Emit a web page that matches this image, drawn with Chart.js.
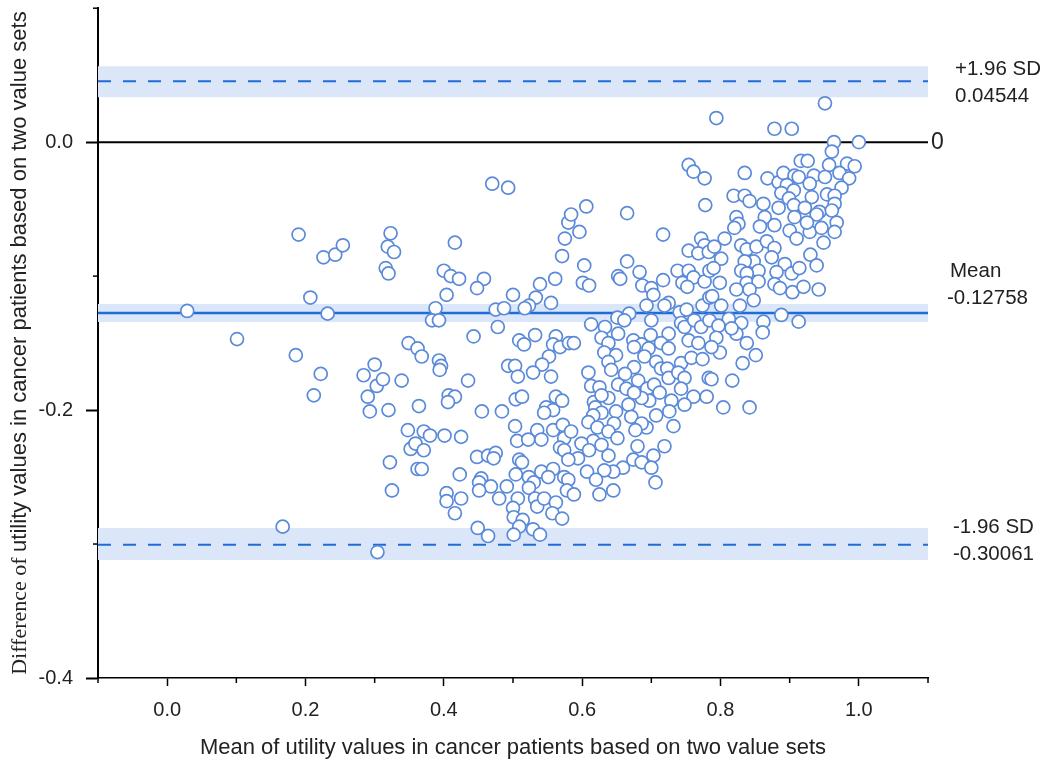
<!DOCTYPE html>
<html>
<head>
<meta charset="utf-8">
<script src="https://cdn.jsdelivr.net/npm/chart.js@4.4.1/dist/chart.umd.min.js"></script>
<style>
html,body{margin:0;padding:0;background:#fff}
#wrap{width:1054px;height:765px}
</style>
</head>
<body>
<div id="wrap"><canvas id="ba" width="1054" height="765"></canvas></div>
<script>
// Bland-Altman data: [mean of the two utilities, difference]
const samples=[
// left, sparse
[0.029,-0.126],[0.101,-0.147],[0.190,-0.069],[0.226,-0.086],[0.243,-0.084],[0.254,-0.077],[0.207,-0.116],[0.232,-0.128],[0.186,-0.159],[0.222,-0.173],
[0.212,-0.189],[0.300,-0.166],[0.284,-0.174],[0.303,-0.182],[0.312,-0.177],[0.290,-0.190],[0.293,-0.201],[0.320,-0.200],[0.339,-0.178],[0.349,-0.150],
[0.348,-0.215],[0.352,-0.229],[0.322,-0.239],[0.325,-0.260],[0.167,-0.287],[0.304,-0.306],[0.323,-0.068],[0.319,-0.078],[0.328,-0.082],[0.316,-0.094],
[0.320,-0.098],
// 0.35 - 0.58, upper half
[0.470,-0.031],[0.493,-0.034],[0.580,-0.060],[0.575,-0.072],[0.571,-0.085],[0.416,-0.075],[0.400,-0.096],[0.410,-0.100],[0.422,-0.102],[0.458,-0.102],
[0.448,-0.109],[0.404,-0.114],[0.388,-0.124],[0.383,-0.133],[0.393,-0.133],[0.475,-0.125],[0.487,-0.124],[0.478,-0.138],[0.443,-0.145],[0.500,-0.114],
[0.539,-0.106],[0.533,-0.116],[0.561,-0.102],[0.555,-0.120],[0.523,-0.122],[0.517,-0.124],[0.362,-0.154],[0.368,-0.160],[0.393,-0.163],[0.396,-0.167],
[0.435,-0.178],[0.493,-0.167],[0.503,-0.167],[0.507,-0.175],[0.509,-0.148],[0.516,-0.151],[0.532,-0.144],[0.562,-0.145],[0.558,-0.151],[0.568,-0.153],
[0.552,-0.160],[0.542,-0.166],[0.529,-0.172],[0.555,-0.175],[0.581,-0.150],
// 0.35 - 0.58, lower half
[0.394,-0.170],[0.407,-0.189],[0.416,-0.190],[0.406,-0.194],[0.364,-0.197],[0.455,-0.201],[0.484,-0.201],[0.504,-0.192],[0.513,-0.190],[0.548,-0.198],
[0.558,-0.200],[0.562,-0.190],[0.571,-0.193],[0.545,-0.202],[0.503,-0.212],[0.506,-0.223],[0.522,-0.222],[0.535,-0.215],[0.541,-0.222],[0.558,-0.215],
[0.572,-0.211],[0.574,-0.221],[0.568,-0.228],[0.574,-0.230],[0.371,-0.216],[0.380,-0.219],[0.401,-0.219],[0.425,-0.220],[0.359,-0.225],[0.371,-0.230],
[0.448,-0.235],[0.464,-0.234],[0.475,-0.232],[0.472,-0.236],[0.509,-0.237],[0.513,-0.239],[0.362,-0.244],[0.368,-0.244],[0.423,-0.248],[0.454,-0.251],
[0.451,-0.254],[0.468,-0.257],[0.451,-0.260],[0.491,-0.257],[0.504,-0.248],[0.523,-0.250],[0.530,-0.254],[0.541,-0.246],[0.558,-0.244],[0.551,-0.250],
[0.574,-0.250],[0.580,-0.252],[0.523,-0.258],[0.404,-0.262],[0.404,-0.268],[0.425,-0.266],[0.416,-0.277],[0.480,-0.266],[0.507,-0.266],[0.500,-0.273],
[0.532,-0.266],[0.535,-0.272],[0.545,-0.266],[0.562,-0.269],[0.557,-0.277],[0.571,-0.281],[0.501,-0.280],[0.514,-0.282],[0.509,-0.287],[0.529,-0.289],
[0.449,-0.288],[0.464,-0.294],[0.501,-0.293],[0.539,-0.293],[0.578,-0.260],
// 0.58 - 0.79, upper half
[0.754,-0.017],[0.761,-0.022],[0.777,-0.027],[0.778,-0.047],[0.606,-0.048],[0.584,-0.054],[0.596,-0.067],[0.665,-0.053],[0.717,-0.069],[0.603,-0.092],
[0.601,-0.105],[0.610,-0.107],[0.665,-0.089],[0.652,-0.100],[0.655,-0.102],[0.683,-0.097],[0.687,-0.107],[0.700,-0.109],[0.703,-0.114],[0.717,-0.103],
[0.738,-0.096],[0.754,-0.096],[0.745,-0.105],[0.761,-0.101],[0.752,-0.108],[0.754,-0.081],[0.772,-0.072],[0.777,-0.077],[0.768,-0.083],[0.783,-0.082],
[0.777,-0.104],[0.784,-0.096],[0.693,-0.122],[0.725,-0.120],[0.719,-0.122],[0.741,-0.127],[0.751,-0.125],[0.774,-0.122],[0.784,-0.116],[0.668,-0.128],
[0.651,-0.131],[0.661,-0.133],[0.700,-0.133],[0.613,-0.136],[0.633,-0.138],[0.652,-0.143],[0.628,-0.146],[0.638,-0.150],[0.588,-0.150],[0.674,-0.148],
[0.699,-0.144],[0.725,-0.143],[0.743,-0.135],[0.748,-0.138],[0.762,-0.133],[0.772,-0.138],[0.784,-0.133],[0.754,-0.148],[0.768,-0.150],[0.714,-0.150],
[0.686,-0.151],
// 0.58 - 0.79, lower half
[0.632,-0.157],[0.649,-0.159],[0.638,-0.164],[0.642,-0.170],[0.609,-0.172],[0.675,-0.153],[0.696,-0.154],[0.725,-0.154],[0.690,-0.160],[0.707,-0.164],
[0.714,-0.169],[0.723,-0.169],[0.743,-0.165],[0.758,-0.161],[0.774,-0.162],[0.783,-0.176],[0.675,-0.168],[0.662,-0.173],[0.613,-0.182],[0.625,-0.183],
[0.652,-0.181],[0.664,-0.184],[0.681,-0.178],[0.694,-0.184],[0.704,-0.181],[0.725,-0.176],[0.739,-0.172],[0.748,-0.176],[0.743,-0.184],[0.761,-0.190],
[0.780,-0.190],[0.712,-0.187],[0.729,-0.193],[0.697,-0.193],[0.686,-0.191],[0.675,-0.187],[0.638,-0.191],[0.617,-0.194],[0.619,-0.198],[0.628,-0.189],
[0.667,-0.196],[0.671,-0.205],[0.649,-0.201],[0.628,-0.202],[0.616,-0.204],[0.609,-0.209],[0.646,-0.210],[0.622,-0.213],[0.707,-0.204],[0.726,-0.201],
[0.748,-0.196],[0.732,-0.212],[0.693,-0.213],[0.686,-0.210],[0.677,-0.215],[0.638,-0.216],[0.584,-0.216],[0.651,-0.221],[0.616,-0.223],[0.628,-0.226],
[0.599,-0.225],[0.610,-0.230],[0.638,-0.234],[0.594,-0.236],[0.580,-0.237],[0.680,-0.227],[0.719,-0.227],[0.703,-0.234],[0.674,-0.237],[0.686,-0.239],
[0.700,-0.243],[0.659,-0.243],[0.645,-0.246],[0.632,-0.245],[0.607,-0.246],[0.620,-0.252],[0.588,-0.263],[0.625,-0.263],[0.645,-0.260],[0.706,-0.254],
// 0.79 - 1.0, near zero
[0.794,0.018],[0.878,0.010],[0.903,0.010],[0.951,0.029],[0.964,0.000],[1.000,0.000],[0.961,-0.007],[0.835,-0.023],[0.916,-0.014],[0.926,-0.014],
[0.957,-0.017],[0.983,-0.016],[0.994,-0.018],[0.868,-0.027],[0.884,-0.030],[0.891,-0.023],[0.907,-0.025],[0.913,-0.026],[0.935,-0.025],[0.951,-0.026],
[0.972,-0.023],[0.986,-0.027],[0.929,-0.031],[0.975,-0.034],[0.896,-0.032],[0.819,-0.040],[0.835,-0.040],[0.842,-0.044],[0.888,-0.038],[0.906,-0.036],
[0.932,-0.041],[0.954,-0.039],[0.965,-0.040],[0.862,-0.046],[0.899,-0.042],[0.884,-0.049],[0.906,-0.047],[0.922,-0.049],[0.943,-0.052],[0.965,-0.046],
[0.939,-0.054],[0.961,-0.051],[0.823,-0.056],[0.826,-0.061],[0.864,-0.056],[0.878,-0.062],[0.907,-0.056],[0.857,-0.063],[0.900,-0.066],[0.929,-0.067],
[0.946,-0.064],[0.968,-0.060],[0.965,-0.067],[0.820,-0.064],[0.925,-0.060],
// 0.79 - 1.0, lower
[0.910,-0.072],[0.949,-0.075],[0.806,-0.072],[0.791,-0.078],[0.830,-0.077],[0.838,-0.080],[0.852,-0.078],[0.867,-0.074],[0.878,-0.079],[0.801,-0.087],
[0.874,-0.086],[0.848,-0.089],[0.835,-0.089],[0.893,-0.091],[0.930,-0.084],[0.939,-0.092],[0.790,-0.094],[0.830,-0.096],[0.855,-0.096],[0.881,-0.097],
[0.903,-0.098],[0.914,-0.094],[0.799,-0.105],[0.838,-0.098],[0.838,-0.105],[0.855,-0.104],[0.878,-0.106],[0.886,-0.109],[0.904,-0.112],[0.920,-0.108],
[0.942,-0.110],[0.823,-0.110],[0.842,-0.110],[0.788,-0.115],[0.848,-0.118],[0.801,-0.122],[0.828,-0.122],[0.888,-0.129],[0.913,-0.134],[0.862,-0.134],
[0.861,-0.142],[0.830,-0.135],[0.812,-0.132],[0.797,-0.137],[0.823,-0.143],[0.794,-0.146],[0.838,-0.150],[0.816,-0.139],
[0.851,-0.159],[0.832,-0.165],[0.799,-0.157],[0.787,-0.153],[0.787,-0.177],[0.817,-0.178],[0.804,-0.198],[0.842,-0.198]
];

// agreement lines and their confidence bands
const upperLoA=0.04544, meanDiff=-0.12758, lowerLoA=-0.30061;
const upperBand=[0.0336,0.0567];
const meanBand=[-0.1343,-0.1209];
const lowerBand=[-0.3119,-0.2881];

const xRange=[-0.1,1.1];
const yRange=[-0.4,0.1];
const xLabelled=[0,2,4,6,8,10];   // tenths that carry a label
const yLabelled=[0,-2,-4];

const sideText=[
  {v:upperLoA, lines:["+1.96 SD","0.04544"], dy:[-12,15], x:955},
  {v:meanDiff, lines:["Mean","-0.12758"], dy:[-42,-15], x:[950,947]},
  {v:lowerLoA, lines:["-1.96 SD","-0.30061"], dy:[-18,9], x:953}
];

const BLUE="#1e6cd6", BAND="#dbe7f8", DOT="#5a8ad9";
const SANS="'Liberation Sans', Arial, sans-serif";
const SERIF="'Liberation Serif', 'Times New Roman', serif";

function hline(v){return [{x:xRange[0],y:v},{x:xRange[1],y:v}];}
function lineSet(v,color,width,dash){
  return {data:hline(v),showLine:true,borderColor:color,borderWidth:width,borderDash:dash||[],pointRadius:0,fill:false};
}
function bandSet(v,fill){
  return {data:hline(v),showLine:true,borderWidth:0,borderColor:"transparent",backgroundColor:BAND,pointRadius:0,fill:fill};
}
const tenth=v=>Math.round(v*10);

// minor ticks + text around the plot
const decor={
  id:"decor",
  afterDraw(chart){
    const c=chart.ctx, a=chart.chartArea, xs=chart.scales.x, ys=chart.scales.y;
    c.save();
    c.strokeStyle="#000";c.lineWidth=1.5;
    for(let k=-1;k<=11;k++){
      if(xLabelled.includes(k))continue;
      const px=xs.getPixelForValue(k/10);
      c.beginPath();c.moveTo(px,a.bottom);c.lineTo(px,a.bottom+5);c.stroke();
    }
    for(let k=-4;k<=1;k++){
      if(yLabelled.includes(k))continue;
      const py=ys.getPixelForValue(k/10);
      c.beginPath();c.moveTo(a.left,py);c.lineTo(a.left-5,py);c.stroke();
    }
    c.fillStyle="#222";
    // x title
    c.font="22px "+SANS;c.textAlign="center";c.textBaseline="middle";
    c.fillText("Mean of utility values in cancer patients based on two value sets",(a.left+a.right)/2,748);
    // y title, first words in serif as in the source
    const p1="Difference of ", p2="utility values in cancer patients based on two value sets";
    c.font="22px "+SERIF;const w1=c.measureText(p1).width;
    c.font="22px "+SANS;const w2=c.measureText(p2).width;
    c.translate(20,(a.top+a.bottom)/2);c.rotate(-Math.PI/2);
    c.textAlign="left";
    c.font="22px "+SERIF;c.fillText(p1,-(w1+w2)/2,0);
    c.font="22px "+SANS;c.fillText(p2,-(w1+w2)/2+w1,0);
    c.setTransform(1,0,0,1,0,0);
    // side labels
    c.textAlign="left";c.font="20.5px "+SANS;
    sideText.forEach(s=>{
      const py=ys.getPixelForValue(s.v);
      s.lines.forEach((t,i)=>{
        const x=Array.isArray(s.x)?s.x[i]:s.x;
        c.fillText(t,x,py+s.dy[i]);
      });
    });
    c.font="23px "+SANS;
    c.fillText("0",a.right+3,ys.getPixelForValue(0));
    c.restore();
  }
};

new Chart(document.getElementById("ba"),{
  type:"scatter",
  data:{datasets:[
    {data:samples.map(p=>({x:p[0],y:p[1]})),pointRadius:6.5,pointHoverRadius:6.5,pointBorderWidth:1.7,
     pointBorderColor:DOT,pointBackgroundColor:"#fff",showLine:false},
    lineSet(0,"#000",2),
    lineSet(meanDiff,BLUE,2.5),
    lineSet(upperLoA,BLUE,2,[13,12]),
    lineSet(lowerLoA,BLUE,2,[13,12]),
    bandSet(upperBand[1],"+1"),bandSet(upperBand[0],false),
    bandSet(meanBand[1],"+1"),bandSet(meanBand[0],false),
    bandSet(lowerBand[1],"+1"),bandSet(lowerBand[0],false)
  ]},
  options:{
    responsive:false,animation:false,
    layout:{padding:{top:8,right:126,left:0,bottom:0}},
    plugins:{legend:{display:false},tooltip:{enabled:false}},
    scales:{
      x:{type:"linear",min:xRange[0],max:xRange[1],
        ticks:{stepSize:0.1,autoSkip:false,maxRotation:0,padding:12,color:"#222",font:{family:SANS,size:20},
          callback:v=>xLabelled.includes(tenth(v))?(tenth(v)/10).toFixed(1):""},
        grid:{drawOnChartArea:false,tickLength:8,tickWidth:1.5,
          tickColor:ctx=>ctx.tick&&xLabelled.includes(tenth(ctx.tick.value))?"#000":"transparent"},
        border:{color:"#000",width:1.5},
        afterFit(s){s.height=87;s.paddingLeft=0;s.paddingRight=0;}
      },
      y:{type:"linear",min:yRange[0],max:yRange[1],
        ticks:{stepSize:0.1,autoSkip:false,padding:13,color:"#222",font:{family:SANS,size:20},
          callback:v=>yLabelled.includes(tenth(v))?(tenth(v)/10).toFixed(1):""},
        grid:{drawOnChartArea:false,tickLength:12,tickWidth:2,
          tickColor:ctx=>ctx.tick&&yLabelled.includes(tenth(ctx.tick.value))?"#000":"transparent"},
        border:{color:"#000",width:2},
        afterFit(s){s.width=98;s.paddingTop=0;s.paddingBottom=0;}
      }
    }
  },
  plugins:[decor]
});
</script>
</body>
</html>
